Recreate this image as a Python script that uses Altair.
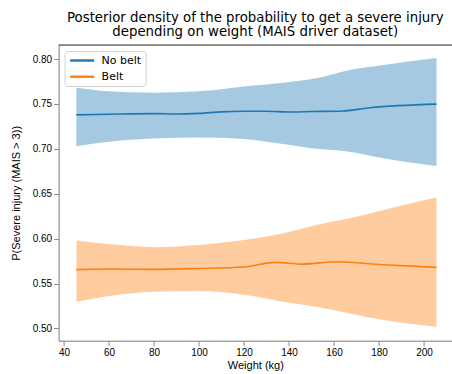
import altair as alt
import pandas as pd

# Posterior credible bands (weight in kg -> probability)
band_weight = [45.5, 60, 80, 100, 120, 137.5, 152, 167, 182, 205.5]
nobelt_upper = [0.768, 0.764, 0.7625, 0.764, 0.7695, 0.7736, 0.7785, 0.7878, 0.7933, 0.801]
nobelt_lower = [0.703, 0.708, 0.7115, 0.7125, 0.711, 0.7053, 0.700, 0.6968, 0.6894, 0.6808]
belt_upper = [0.598, 0.594, 0.5905, 0.593, 0.5985, 0.6059, 0.6151, 0.6226, 0.6319, 0.646]
belt_lower = [0.5297, 0.5361, 0.5409, 0.5417, 0.5375, 0.5297, 0.5242, 0.5168, 0.5094, 0.502]

# Posterior means
nobelt_weight = [45.5, 60, 80, 90, 100, 110, 120, 130, 140.5, 150, 164, 176, 205.5]
nobelt_mean = [0.7378, 0.7385, 0.7392, 0.7388, 0.7395, 0.7412, 0.7418, 0.7418, 0.741, 0.7415, 0.7422, 0.7458, 0.7498]
belt_weight = [45.5, 60, 80, 100, 120, 134, 146, 161, 182, 205.5]
belt_mean = [0.5655, 0.5662, 0.5658, 0.5668, 0.5685, 0.5736, 0.5717, 0.5743, 0.5709, 0.568]

groups = ["No belt", "Belt"]
colors = ["#1f77b4", "#ff7f0e"]

bands = pd.DataFrame(
    [{"weight": w, "lower": lo, "upper": up, "group": "No belt"}
     for w, lo, up in zip(band_weight, nobelt_lower, nobelt_upper)]
    + [{"weight": w, "lower": lo, "upper": up, "group": "Belt"}
       for w, lo, up in zip(band_weight, belt_lower, belt_upper)]
)
means = pd.DataFrame(
    [{"weight": w, "p": p, "group": "No belt"} for w, p in zip(nobelt_weight, nobelt_mean)]
    + [{"weight": w, "p": p, "group": "Belt"} for w, p in zip(belt_weight, belt_mean)]
)

FONT = "DejaVu Sans"
FS = 10.5
W, H = 393.4, 295.7
xscale = alt.Scale(domain=[37.6, 212.4], nice=False, zero=False)
yscale = alt.Scale(domain=[0.4864, 0.8156], nice=False, zero=False)

xaxis = alt.Axis(values=list(range(40, 201, 20)), title="Weight (kg)", grid=False,
                 titlePadding=2.2, titleFontWeight="normal")
yaxis = alt.Axis(values=[0.50, 0.55, 0.60, 0.65, 0.70, 0.75, 0.80], format=".2f",
                 title="P(Severe injury (MAIS > 3))", grid=False, titlePadding=11,
                 titleFontWeight="normal")

# band fill scale listed in reverse order so it stays separate from the line legend
area = alt.Chart(bands).mark_area(fillOpacity=0.4, interpolate="monotone").encode(
    x=alt.X("weight:Q", scale=xscale, axis=xaxis),
    y=alt.Y("lower:Q", scale=yscale, axis=yaxis),
    y2="upper:Q",
    fill=alt.Fill("group:N", scale=alt.Scale(domain=groups[::-1], range=colors[::-1]),
                  legend=None),
)

# short horizontal stroke used as the legend's line sample
line_symbol = "M-1,0H5"

lines = alt.Chart(means).mark_line(strokeWidth=1.6, interpolate="monotone").encode(
    x=alt.X("weight:Q", scale=xscale),
    y=alt.Y("p:Q", scale=yscale),
    color=alt.Color(
        "group:N", scale=alt.Scale(domain=groups, range=colors),
        legend=alt.Legend(title=None, orient="top-left", offset=5.5,
                          symbolType=line_symbol, symbolSize=64, symbolStrokeWidth=2.4,
                          labelFontSize=11, labelColor="#000", labelFont=FONT,
                          rowPadding=4.2, padding=4, cornerRadius=3,
                          strokeColor="#d0d0d0", fillColor="#ffffff",
                          labelOffset=22),
    ),
)

top_spine = alt.Chart(pd.DataFrame({"k": [0]})).mark_rule(color="#000", strokeWidth=0.8).encode(
    x=alt.value(0), x2=alt.value(W), y=alt.value(0)
)

chart = (
    alt.layer(area, lines, top_spine)
    .properties(
        width=W, height=H,
        title=alt.TitleParams(
            ["Posterior density of the probability to get a severe injury",
             "depending on weight (MAIS driver dataset)"],
            font=FONT, fontSize=13.3, fontWeight="normal", color="#000",
            anchor="middle", offset=6, lineHeight=14,
        ),
        autosize=alt.AutoSizeParams(type="none"),
        padding={"left": 58.6, "top": 45, "right": 0, "bottom": 33.3},
    )
    .configure_view(stroke=None)
    .configure_axis(
        labelFont=FONT, titleFont=FONT, labelFontSize=FS,
        titleFontSize=FS, titleFontWeight="normal", labelColor="#000", titleColor="#000",
        domainColor="#000", domainWidth=0.8, tickColor="#000", tickWidth=0.8,
        tickSize=3.9, labelPadding=3.9,
    )
    .configure(background="white")
)

chart.save("out.html", embed_options={"renderer": "svg", "actions": False})
